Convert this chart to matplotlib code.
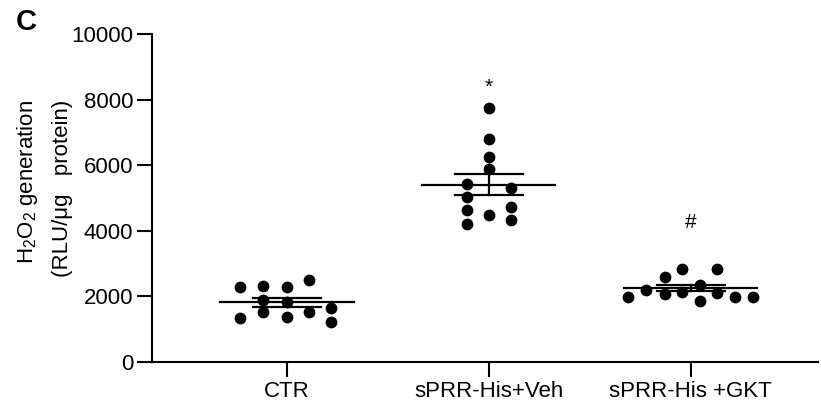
import numpy as np
import matplotlib
matplotlib.use("Agg")
import matplotlib.pyplot as plt

plt.rcParams['font.family'] = ['Liberation Sans', 'DejaVu Sans']
plt.rcParams['mathtext.fontset'] = 'custom'
plt.rcParams['mathtext.rm'] = 'Liberation Sans'
plt.rcParams['mathtext.default'] = 'regular'

groups = ["CTR", "sPRR-His+Veh", "sPRR-His +GKT"]

ctr_vals = [2300, 1330, 2320, 1890, 1530, 2280, 1840, 1380, 2500, 1530, 1660, 1230]
ctr_dx = [-0.23, -0.23, -0.12, -0.12, -0.12, 0, 0, 0, 0.11, 0.11, 0.22, 0.22]

veh_vals = [5430, 5040, 4630, 4210, 7750, 6800, 6260, 5880, 4480, 5300, 4740, 4330]
veh_dx = [-0.11, -0.11, -0.11, -0.11, 0, 0, 0, 0, 0, 0.11, 0.11, 0.11]

gkt_vals = [1990, 2200, 2580, 2070, 2840, 2130, 2350, 1870, 2840, 2110, 1990, 1990]
gkt_dx = [-0.31, -0.22, -0.13, -0.13, -0.045, -0.045, 0.045, 0.045, 0.13, 0.13, 0.22, 0.31]

marks = ["", "*", "#"]
mark_y = [0, 8380, 4260]

fig = plt.figure(figsize=(8.21, 4.11), dpi=100)
ax = fig.add_axes([152/821, 49/411, 666/821, (362-34)/411])

data = [(ctr_vals, ctr_dx), (veh_vals, veh_dx), (gkt_vals, gkt_dx)]
for i, (vals, dx) in enumerate(data):
    vals = np.array(vals, dtype=float)
    ax.scatter(i + np.array(dx), vals, s=72, color="black", zorder=3, linewidths=0)
    m = vals.mean()
    sem = vals.std(ddof=1) / np.sqrt(len(vals))
    ax.plot([i - 0.33, i + 0.33], [m, m], color="black", lw=1.6, zorder=4)
    ax.plot([i - 0.167, i + 0.167], [m + sem, m + sem], color="black", lw=1.6, zorder=4)
    ax.plot([i - 0.167, i + 0.167], [m - sem, m - sem], color="black", lw=1.6, zorder=4)
    ax.plot([i, i], [m - sem, m + sem], color="black", lw=1.6, zorder=4)
    if marks[i]:
        ax.text(i, mark_y[i], marks[i], ha="center", va="center", fontsize=15)

ax.set_xlim(-0.668, 2.63)
ax.set_ylim(0, 10000)
ax.set_yticks([0, 2000, 4000, 6000, 8000, 10000])
ax.set_xticks([0, 1, 2])
ax.set_xticklabels(groups)
for s in ["top", "right"]:
    ax.spines[s].set_visible(False)
for s in ["left", "bottom"]:
    ax.spines[s].set_linewidth(1.5)
ax.tick_params(axis="both", length=11, width=1.5, labelsize=16, pad=2.5)
ax.tick_params(axis="x", pad=3)

fig.text(27/821, 1 - 100/411, r"H$_2$O$_2$ generation", rotation=90,
         ha="center", va="top", fontsize=16)
fig.text(62/821, 1 - 100/411, "(RLU/\u03bcg   protein)", rotation=90,
         ha="center", va="top", fontsize=16)
fig.text(26/821, 1 - 22/411, "C", ha="center", va="center", fontsize=21,
         fontweight="bold")

fig.savefig("out.png", dpi=100)
